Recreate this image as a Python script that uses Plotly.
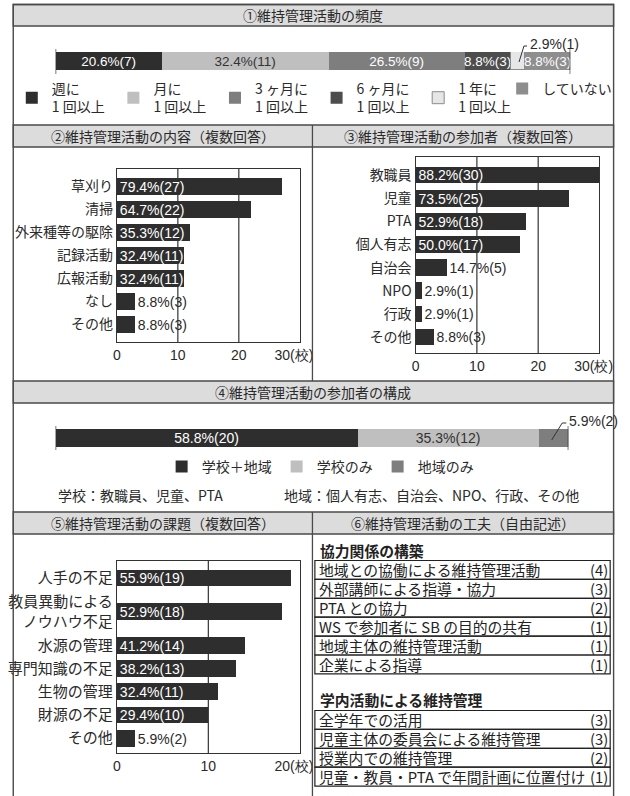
import numpy as np
import plotly.graph_objects as go

W, H = 630, 796
NUM_FONT = "Liberation Sans, Arial, sans-serif"
JP_FONT = "Noto Sans CJK JP, sans-serif"
TXT = "#2a2a2a"
LINE = "#4a4a4a"
BAR = "#2e2e2e"

# ---------------- data ----------------
freq_labels = ["週に<br>1 回以上", "月に<br>1 回以上", "3 ヶ月に<br>1 回以上",
               "6 ヶ月に<br>1 回以上", "1 年に<br>1 回以上", "していない"]
freq_pct = [20.6, 32.4, 26.5, 8.8, 2.9, 8.8]
freq_n = [7, 11, 9, 3, 1, 3]
freq_colors = ["#2e2e2e", "#bfbfbf", "#7e7e7e", "#4d4d4d", "#e6e6e6", "#8e8e8e"]
freq_textcolors = ["white", "#333333", "white", "white", "#333333", "white"]

content_cats = ["草刈り", "清掃", "外来種等の駆除", "記録活動", "広報活動", "なし", "その他"]
content_n = [27, 22, 12, 11, 11, 3, 3]
content_pct = [79.4, 64.7, 35.3, 32.4, 32.4, 8.8, 8.8]

part_cats = ["教職員", "児童", "PTA", "個人有志", "自治会", "NPO", "行政", "その他"]
part_n = [30, 25, 18, 17, 5, 1, 1, 3]
part_pct = [88.2, 73.5, 52.9, 50.0, 14.7, 2.9, 2.9, 8.8]

comp_labels = ["学校＋地域", "学校のみ", "地域のみ"]
comp_pct = [58.8, 35.3, 5.9]
comp_n = [20, 12, 2]
comp_colors = ["#2e2e2e", "#bfbfbf", "#7e7e7e"]
comp_textcolors = ["white", "#333333", "white"]

issue_cats = ["人手の不足", "教員異動による<br>ノウハウ不足", "水源の管理", "専門知識の不足",
              "生物の管理", "財源の不足", "その他"]
issue_n = [19, 18, 14, 13, 11, 10, 2]
issue_pct = [55.9, 52.9, 41.2, 38.2, 32.4, 29.4, 5.9]

coop_title = "協力関係の構築"
coop_items = ["地域との協働による維持管理活動", "外部講師による指導・協力", "PTA との協力",
              "WS で参加者に SB の目的の共有", "地域主体の維持管理活動", "企業による指導"]
coop_n = [4, 3, 2, 1, 1, 1]
school_title = "学内活動による維持管理"
school_items = ["全学年での活用", "児童主体の委員会による維持管理", "授業内での維持管理",
                "児童・教員・PTA で年間計画に位置付け"]
school_n = [3, 3, 2, 1]

footnote_school = "学校：教職員、児童、PTA"
footnote_area = "地域：個人有志、自治会、NPO、行政、その他"

titles = ["①維持管理活動の頻度", "②維持管理活動の内容（複数回答）", "③維持管理活動の参加者（複数回答）",
          "④維持管理活動の参加者の構成", "⑤維持管理活動の課題（複数回答）", "⑥維持管理活動の工夫（自由記述）"]


def fx(p):
    return p / W


def fy(p):
    return 1 - p / H


fig = go.Figure()
shapes = []
annotations = []

# ---------------- chart 1: stacked frequency bar ----------------
for i, (lab, p, n, c, tc) in enumerate(zip(freq_labels, freq_pct, freq_n, freq_colors, freq_textcolors)):
    small = p < 5
    fig.add_trace(go.Bar(
        x=[p], y=[0], orientation="h", xaxis="x", yaxis="y", name=lab, width=1,
        marker=dict(color=c, line=dict(color="#8a8a8a" if small else c, width=1 if small else 0)),
        text=["" if small else f"{p}%({n})"], textposition="inside", insidetextanchor="middle",
        textangle=0, constraintext="none", cliponaxis=False,
        textfont=dict(color=tc, size=13.5, family=NUM_FONT),
        legend="legend3" if i == len(freq_labels) - 1 else "legend", hoverinfo="skip"))

cum1 = np.concatenate([[0], np.cumsum(freq_pct)])
for xv in (0, 100):
    shapes.append(dict(type="line", xref="x", yref="paper", x0=xv, x1=xv, y0=fy(74), y1=fy(49),
                       line=dict(color="#333", width=1.3)))
s4, e4 = cum1[4], cum1[5]
shapes.append(dict(type="path", xref="x", yref="paper",
                   path=f"M{s4 + 0.6 * freq_pct[4]},{fy(62)} L{e4 - 0.2},{fy(46)} L{e4 + 0.4},{fy(46)}",
                   line=dict(color="#333", width=1)))
annotations.append(dict(x=e4 + 0.5, y=fy(44), xref="x", yref="paper", xanchor="left", yanchor="middle",
                        text=f"{freq_pct[4]}%({freq_n[4]})", showarrow=False,
                        font=dict(family=NUM_FONT, size=14, color=TXT)))


# ---------------- helper for horizontal bar charts ----------------
def hbars(vals, pcts, ypos, xa, ya, pxwidth, xmax):
    tp = ["inside" if v / xmax * pxwidth > 60 else "outside" for v in vals]
    fig.add_trace(go.Bar(
        x=vals, y=ypos, orientation="h", xaxis=xa, yaxis=ya, width=0.72,
        marker=dict(color=BAR, line=dict(width=0)),
        text=[f"{p:.1f}%({v})" for p, v in zip(pcts, vals)], textposition=tp,
        insidetextanchor="start", textangle=0, constraintext="none", cliponaxis=False,
        textfont=dict(family=NUM_FONT, size=14),
        insidetextfont=dict(color="white", family=NUM_FONT, size=14),
        outsidetextfont=dict(color=TXT, family=NUM_FONT, size=14),
        showlegend=False, hoverinfo="skip"))


def xax(x0, x1, ya, xmax, xref_name, fs=14):
    ticks = list(range(0, xmax + 1, 10))
    # the unit-suffixed last label sits a little left of the axis end, as in the original
    shift = 6.0 / (x1 - x0) * xmax
    tv = ticks[:-1] + [xmax - shift]
    # inner gridlines drawn as lines below the bars
    for t in ticks[1:-1]:
        shapes.append(dict(type="line", xref=xref_name, yref=f"{ya} domain", x0=t, x1=t, y0=0, y1=1,
                           line=dict(color="#333", width=1.2), layer="below"))
    return dict(domain=[fx(x0), fx(x1)], range=[0, xmax], anchor=ya, tickvals=tv,
                ticktext=[str(t) for t in ticks[:-1]] + [f"{xmax}(校)"],
                showgrid=False, zeroline=False,
                showline=True, mirror=True, linecolor="#333", linewidth=1.3, ticks="",
                tickfont=dict(family=NUM_FONT, size=fs, color=TXT), fixedrange=True)


def yax(y_top, y_bot, xa, rng, tv, tt, fs=14):
    return dict(domain=[fy(y_bot), fy(y_top)], range=rng, anchor=xa, tickvals=tv, ticktext=tt,
                showgrid=False, zeroline=False, showline=True, mirror=True, linecolor="#333",
                linewidth=1.3, ticks="", tickfont=dict(family=JP_FONT, size=fs, color=TXT),
                fixedrange=True)


# chart 2
pos2 = list(range(len(content_cats)))
hbars(content_n, content_pct, pos2, "x2", "y2", 188, 30)
# chart 3
pos3 = list(range(len(part_cats)))
hbars(part_n, part_pct, pos3, "x3", "y3", 189, 30)
# chart 5 (extra room for two-line label)
lines5 = [c.count("<br>") + 1 for c in issue_cats]
pos5 = []
cur = 0.0
for k in range(len(issue_cats) - 1, -1, -1):
    extra = 0.45 * (lines5[k] - 1)
    cur += extra
    pos5.insert(0, cur)
    cur += 1 + extra
hbars(issue_n, issue_pct, pos5, "x5", "y5", 188, 20)

# ---------------- chart 4: composition stacked bar ----------------
for lab, p, n, c, tc in zip(comp_labels, comp_pct, comp_n, comp_colors, comp_textcolors):
    small = p < 10
    fig.add_trace(go.Bar(
        x=[p], y=[0], orientation="h", xaxis="x4", yaxis="y4", name=lab, width=1,
        marker=dict(color=c, line=dict(width=0)),
        text=["" if small else f"{p}%({n})"], textposition="inside", insidetextanchor="middle",
        textangle=0, constraintext="none", cliponaxis=False,
        textfont=dict(color=tc, size=14, family=NUM_FONT), legend="legend2", hoverinfo="skip"))
cum4 = np.concatenate([[0], np.cumsum(comp_pct)])
for xv in (0, 100):
    shapes.append(dict(type="line", xref="x4", yref="paper", x0=xv, x1=xv, y0=fy(450), y1=fy(426),
                       line=dict(color="#333", width=1.3)))
s, e = cum4[2], cum4[3]
shapes.append(dict(type="path", xref="x4", yref="paper",
                   path=f"M{s + 0.45 * comp_pct[2]},{fy(440)} L{e - 1.2},{fy(423)} L{e - 0.4},{fy(423)}",
                   line=dict(color="#333", width=1)))
annotations.append(dict(x=e - 0.3, y=fy(421), xref="x4", yref="paper", xanchor="left", yanchor="middle",
                        text=f"{comp_pct[2]}%({comp_n[2]})", showarrow=False,
                        font=dict(family=NUM_FONT, size=14, color=TXT)))
annotations.append(dict(x=fx(53), y=fy(495), xref="paper", yref="paper", xanchor="left", yanchor="middle",
                        text=footnote_school, showarrow=False, font=dict(family=JP_FONT, size=14, color=TXT)))
annotations.append(dict(x=fx(286), y=fy(495), xref="paper", yref="paper", xanchor="left", yanchor="middle",
                        text=footnote_area, showarrow=False, font=dict(family=JP_FONT, size=14, color=TXT)))

# ---------------- frames & header bands ----------------
L, R = 9.5, 626.5
bands = [(4.5, 26), (125, 147), (381, 403), (512, 534)]
for (t, b) in bands:
    shapes.append(dict(type="rect", xref="paper", yref="paper", x0=fx(L), x1=fx(R), y0=fy(b), y1=fy(t),
                       fillcolor="#dcdcdc", line=dict(color=LINE, width=1.3), layer="below"))
shapes.append(dict(type="rect", xref="paper", yref="paper", x0=fx(L), x1=fx(R), y0=fy(805), y1=fy(4.5),
                   line=dict(color=LINE, width=1.4), fillcolor="rgba(0,0,0,0)"))
for (t, b) in [(125, 381), (512, 805)]:
    shapes.append(dict(type="line", xref="paper", yref="paper", x0=fx(317), x1=fx(317), y0=fy(b), y1=fy(t),
                       line=dict(color=LINE, width=1.3)))
title_pos = [(318, 15.5), (163, 136), (472, 136), (318, 392), (163, 523), (472, 523)]
for txt, (x, y) in zip(titles, title_pos):
    annotations.append(dict(x=fx(x), y=fy(y), xref="paper", yref="paper", text=txt, showarrow=False,
                            xanchor="center", yanchor="middle", font=dict(family=JP_FONT, size=14, color=TXT)))

# ---------------- table (section 6) ----------------
RH = 18.9


def table(title, items, counts, head_y, top):
    annotations.append(dict(x=fx(323), y=fy(head_y), xref="paper", yref="paper", text=f"<b>{title}</b>",
                            showarrow=False, xanchor="left", yanchor="middle",
                            font=dict(family=JP_FONT, size=14.8, color="#222")))
    for k, (it, n) in enumerate(zip(items, counts)):
        t = top + k * RH
        shapes.append(dict(type="rect", xref="paper", yref="paper", x0=fx(319.5), x1=fx(623),
                           y0=fy(t + RH), y1=fy(t), line=dict(color="#222", width=1.2)))
        annotations.append(dict(x=fx(321.5), y=fy(t + RH / 2), xref="paper", yref="paper", text=it,
                                showarrow=False, xanchor="left", yanchor="middle",
                                font=dict(family=JP_FONT, size=14.8, color="#222")))
        annotations.append(dict(x=fx(622.5), y=fy(t + RH / 2), xref="paper", yref="paper", text=f"({n})",
                                showarrow=False, xanchor="right", yanchor="middle",
                                font=dict(family=JP_FONT, size=14.8, color="#222")))


table(coop_title, coop_items, coop_n, 550, 560.5)
table(school_title, school_items, school_n, 699.5, 710.5)

# ---------------- layout ----------------
legend_common = dict(orientation="h", xanchor="left", yanchor="top", bgcolor="rgba(0,0,0,0)",
                     font=dict(family=JP_FONT, size=14, color=TXT),
                     traceorder="normal", itemclick=False, itemdoubleclick=False)

fig.update_layout(
    width=W, height=H, margin=dict(l=0, r=0, t=0, b=0, pad=0),
    paper_bgcolor="white", plot_bgcolor="white", barmode="stack", bargap=0,
    showlegend=True,
    legend=dict(legend_common, x=fx(8), y=fy(73), entrywidth=56.6, entrywidthmode="pixels"),
    legend3=dict(legend_common, x=fx(512), y=fy(73)),
    legend2=dict(legend_common, x=fx(162), y=fy(451)),
    xaxis=dict(domain=[fx(53), fx(582)], range=[0, 100], visible=False, anchor="y", fixedrange=True),
    yaxis=dict(domain=[fy(70), fy(52)], range=[-0.5, 0.5], visible=False, anchor="x", fixedrange=True),
    xaxis4=dict(domain=[fx(53), fx(580)], range=[0, 100], visible=False, anchor="y4", fixedrange=True),
    yaxis4=dict(domain=[fy(447), fy(429)], range=[-0.5, 0.5], visible=False, anchor="x4", fixedrange=True),
    xaxis2=xax(116, 304, "y2", 30, "x2"),
    yaxis2=yax(169, 342, "x2", [6.76, -0.76], pos2, content_cats),
    xaxis3=xax(423, 612, "y3", 30, "x3"),
    yaxis3=yax(157, 353, "x3", [7.69, -0.78], pos3, part_cats),
    xaxis5=xax(116, 304, "y5", 20, "x5"),
    yaxis5=yax(561, 753, "x5", [-0.64, pos5[0] + 0.73], pos5, issue_cats, fs=15),
    shapes=shapes, annotations=annotations,
)

fig.write_html(
    "out.html",
    config={"displayModeBar": False, "responsive": False},
    post_script=("document.documentElement.style.overflow='hidden';"
                 "document.body.style.overflow='hidden';"
                 "document.body.style.margin='0px';"
                 "var gd=document.getElementById('{plot_id}');"
                 "gd.style.position='fixed';gd.style.left='0px';gd.style.top='0px';"),
)
